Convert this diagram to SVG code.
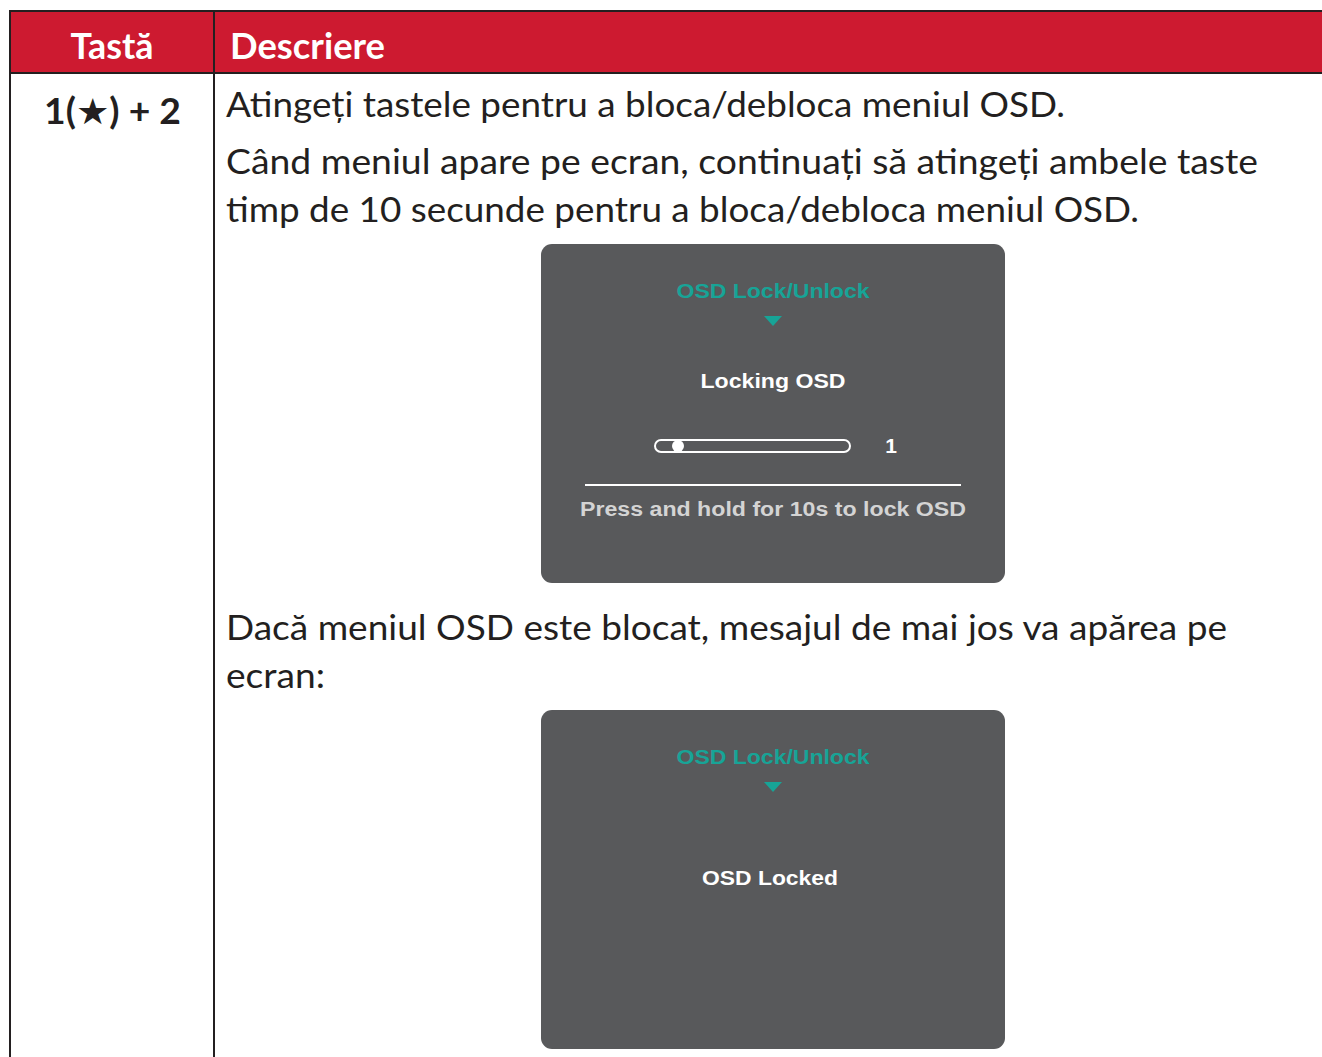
<svg xmlns="http://www.w3.org/2000/svg" width="1322" height="1057" viewBox="0 0 1322 1057">
<style>
.body{font-family:Lato,"Open Sans","Liberation Sans",sans-serif;font-size:35px;fill:#231F20}
.hdr{font-family:Lato,"Open Sans","Liberation Sans",sans-serif;font-size:37px;font-weight:bold;fill:#FFFFFF}
.key{font-family:Lato,"Open Sans","DejaVu Sans","Liberation Sans",sans-serif;font-size:36px;font-weight:bold;fill:#231F20}
.osd{fill:#58595B}
.teal{font-family:"Liberation Sans",Arial,sans-serif;font-size:21px;font-weight:bold;fill:#17A497}
.wt{font-family:"Liberation Sans",Arial,sans-serif;font-size:21px;font-weight:bold;fill:#FFFFFF}
.gt{font-family:"Liberation Sans",Arial,sans-serif;font-size:20px;font-weight:bold;fill:#D4D4D4}
.rule{stroke:#231F20;stroke-width:2;fill:none}
</style>
<rect width="1322" height="1057" fill="#FFFFFF"/>
<g id="table">
<rect x="10" y="11" width="1312" height="62" fill="#CD1A30"/>
<line class="rule" x1="10" y1="11" x2="1322" y2="11"/>
<line class="rule" x1="10" y1="73" x2="1322" y2="73"/>
<line class="rule" x1="10" y1="10" x2="10" y2="1057"/>
<line class="rule" x1="214" y1="10" x2="214" y2="1057"/>
<text class="hdr" x="112" y="59" text-anchor="middle" textLength="83" lengthAdjust="spacingAndGlyphs">Tastă</text>
<text class="hdr" x="230" y="59" textLength="155" lengthAdjust="spacingAndGlyphs">Descriere</text>
</g>
<g id="key">
<text class="key" x="44" y="124" textLength="137" lengthAdjust="spacingAndGlyphs">1(★) + 2</text>
</g>
<g id="description">
<text class="body" x="226" y="117" textLength="839" lengthAdjust="spacingAndGlyphs">Atingeți tastele pentru a bloca/debloca meniul OSD.</text>
<text class="body" x="226" y="174" textLength="1032" lengthAdjust="spacingAndGlyphs">Când meniul apare pe ecran, continuați să atingeți ambele taste</text>
<text class="body" x="226" y="222" textLength="913" lengthAdjust="spacingAndGlyphs">timp de 10 secunde pentru a bloca/debloca meniul OSD.</text>
<text class="body" x="226" y="640" textLength="1001" lengthAdjust="spacingAndGlyphs">Dacă meniul OSD este blocat, mesajul de mai jos va apărea pe</text>
<text class="body" x="226" y="688" textLength="99" lengthAdjust="spacingAndGlyphs">ecran:</text>
</g>
<g id="osd-locking">
<rect class="osd" x="541" y="244" width="464" height="339" rx="11"/>
<text class="teal" x="773" y="298" text-anchor="middle" textLength="193" lengthAdjust="spacingAndGlyphs">OSD Lock/Unlock</text>
<polygon points="764,316 782,316 773,326" fill="#17A497"/>
<text class="wt" x="773" y="388" text-anchor="middle" textLength="145" lengthAdjust="spacingAndGlyphs">Locking OSD</text>
<rect x="655" y="440" width="195" height="12" rx="6" fill="none" stroke="#FFFFFF" stroke-width="2"/>
<circle cx="678" cy="446" r="6" fill="#FFFFFF"/>
<text class="wt" x="891" y="453" text-anchor="middle">1</text>
<line x1="585" y1="485" x2="961" y2="485" stroke="#FFFFFF" stroke-width="2"/>
<text class="gt" x="773" y="516" text-anchor="middle" textLength="386" lengthAdjust="spacingAndGlyphs">Press and hold for 10s to lock OSD</text>
</g>
<g id="osd-locked">
<rect class="osd" x="541" y="710" width="464" height="339" rx="11"/>
<text class="teal" x="773" y="764" text-anchor="middle" textLength="193" lengthAdjust="spacingAndGlyphs">OSD Lock/Unlock</text>
<polygon points="764,782 782,782 773,792" fill="#17A497"/>
<text class="wt" x="770" y="885" text-anchor="middle" textLength="136" lengthAdjust="spacingAndGlyphs">OSD Locked</text>
</g>
</svg>
